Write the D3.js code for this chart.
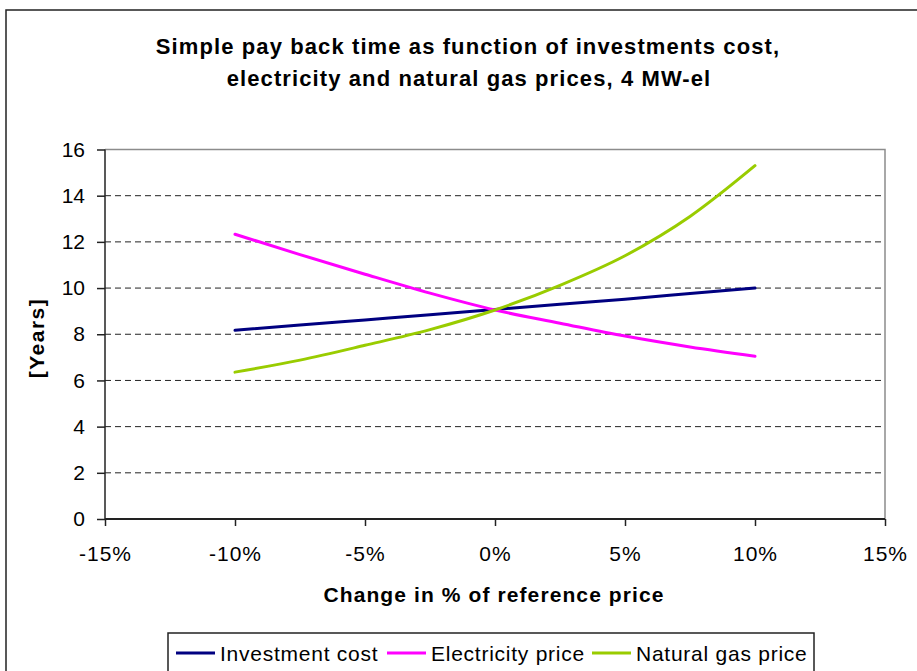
<!DOCTYPE html>
<html>
<head>
<meta charset="utf-8">
<script src="https://cdn.jsdelivr.net/npm/d3@7"></script>
<style>
  body { margin: 0; background: #fff; }
  svg { display: block; font-family: "Liberation Sans", Arial, sans-serif; }
</style>
</head>
<body>
<div id="chart"></div>
<script>
// change in % of reference price
var changes = [-10, -7.5, -5, -2.5, 0, 2.5, 5, 7.5, 10];
var investmentCost = [8.17, 8.4, 8.62, 8.84, 9.07, 9.3, 9.52, 9.76, 10.0];
var electricityPrice = [12.33, 11.45, 10.6, 9.78, 9.05, 8.48, 7.92, 7.45, 7.05];
var naturalGasPrice = [6.36, 6.88, 7.52, 8.2, 9.05, 10.12, 11.4, 13.1, 15.3];
var seriesNames = ["Investment cost", "Electricity price", "Natural gas price"];
var seriesColors = ["#000080", "#ff00ff", "#99cc00"];
var xTicks = [-15, -10, -5, 0, 5, 10, 15];
var yTicks = [0, 2, 4, 6, 8, 10, 12, 14, 16];

var width = 917,
  height = 671,
  svg = d3
    .select("#chart")
    .append("svg")
    .attr("width", width)
    .attr("height", height);

var margin = { top: 149.5, left: 105 },
  iwidth = 780,
  iheight = 369.5;

// outer chart border
svg.append("rect")
  .attr("x", 6).attr("y", 10)
  .attr("width", 1000).attr("height", 1000)
  .attr("fill", "none")
  .attr("stroke", "#222")
  .attr("stroke-width", 1.5);

svg.append("text")
  .attr("x", 468).attr("y", 54)
  .attr("text-anchor", "middle")
  .style("font-weight", "bold")
  .style("font-size", "22px")
  .style("letter-spacing", "1.1px")
  .text("Simple pay back time as function of investments cost,");
svg.append("text")
  .attr("x", 469).attr("y", 86)
  .attr("text-anchor", "middle")
  .style("font-weight", "bold")
  .style("font-size", "22px")
  .style("letter-spacing", "1.1px")
  .text("electricity and natural gas prices, 4 MW-el");

var g = svg.append("g")
  .attr("transform", `translate(${margin.left}, ${margin.top})`);

var x = d3.scaleLinear().domain([-15, 15]).range([0, iwidth]);
var y = d3.scaleLinear().domain([0, 16]).range([iheight, 0]);

// gridlines
g.selectAll(".grid")
  .data(yTicks.filter(function(d){ return d > 0 && d < 16; }))
  .enter()
  .append("line")
  .attr("x1", 0).attr("x2", iwidth)
  .attr("y1", function(d){ return y(d); })
  .attr("y2", function(d){ return y(d); })
  .attr("stroke", "#222")
  .attr("stroke-width", 1)
  .attr("stroke-dasharray", "6,4");

// plot frame top and right
g.append("path")
  .attr("d", `M0,${y(16)}H${iwidth}V${iheight}`)
  .attr("fill", "none")
  .attr("stroke", "#8c8c8c")
  .attr("stroke-width", 1.5);

var yAxis = g.append("g")
  .call(d3.axisLeft(y).tickValues(yTicks).tickSize(8).tickPadding(12));
var xAxis = g.append("g")
  .attr("transform", `translate(0,${iheight})`)
  .call(d3.axisBottom(x).tickValues(xTicks).tickSize(7).tickPadding(20)
    .tickFormat(function(d){ return d + "%"; }));

[yAxis, xAxis].forEach(function(a){
  a.select(".domain").attr("stroke", "#222").attr("stroke-width", 1.5);
  a.selectAll(".tick line").attr("stroke", "#222").attr("stroke-width", 1.5);
  a.selectAll("text")
    .attr("fill", "#000")
    .style("font-size", "21px")
    .style("font-family", "'Liberation Sans', Arial, sans-serif");
});
xAxis.selectAll("text").style("letter-spacing", "1px");
yAxis.select(".domain").attr("d", `M0,${iheight}V0`);
xAxis.select(".domain").attr("d", `M0,0H${iwidth}`).attr("stroke-width", 2);

// series lines
var seriesData = [investmentCost, electricityPrice, naturalGasPrice];
var line = d3.line()
  .x(function(d, i){ return x(changes[i]); })
  .y(function(d){ return y(d); })
  .curve(d3.curveMonotoneX);

g.selectAll(".series")
  .data(seriesData)
  .enter()
  .append("path")
  .attr("d", line)
  .attr("fill", "none")
  .attr("stroke", function(d, i){ return seriesColors[i]; })
  .attr("stroke-width", 3)
  .attr("stroke-linecap", "round");

// axis titles
svg.append("text")
  .attr("transform", "translate(44, 338) rotate(-90)")
  .attr("text-anchor", "middle")
  .style("font-weight", "bold")
  .style("font-size", "21px")
  .style("letter-spacing", "1.5px")
  .text("[Years]");
svg.append("text")
  .attr("x", 494).attr("y", 602)
  .attr("text-anchor", "middle")
  .style("font-weight", "bold")
  .style("font-size", "21px")
  .style("letter-spacing", "1.1px")
  .text("Change in % of reference price");

// legend
svg.append("rect")
  .attr("x", 168).attr("y", 633)
  .attr("width", 646).attr("height", 60)
  .attr("fill", "#fff")
  .attr("stroke", "#222")
  .attr("stroke-width", 1.5);
var legendX = [176, 387, 592];
var item = svg.selectAll(".legend")
  .data(seriesNames)
  .enter()
  .append("g")
  .attr("transform", function(d, i){ return `translate(${legendX[i]}, 653)`; });
item.append("line")
  .attr("x1", 0).attr("x2", 39)
  .attr("stroke", function(d, i){ return seriesColors[i]; })
  .attr("stroke-width", 3);
item.append("text")
  .attr("x", 44).attr("y", 7.5)
  .style("font-size", "21px")
  .style("letter-spacing", "0.75px")
  .text(function(d){ return d; });
</script>
</body>
</html>
